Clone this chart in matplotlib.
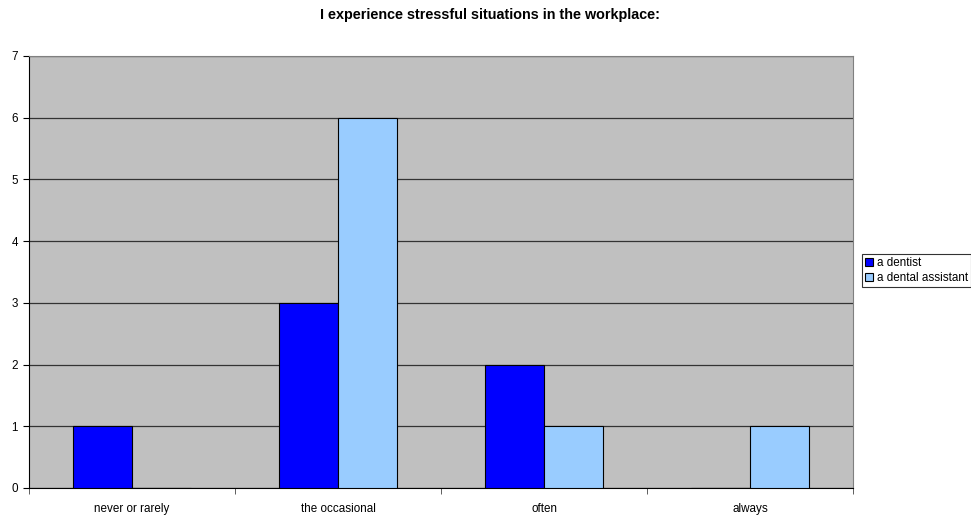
import numpy as np
import matplotlib.pyplot as plt

categories = ['never or rarely', 'the occasional', 'often', 'always']
dentist = [1, 3, 2, 0]
assistant = [0, 6, 1, 1]
series_names = ['a dentist', 'a dental assistant']

plt.rcParams['font.family'] = ['Liberation Sans', 'DejaVu Sans']

fig = plt.figure(figsize=(9.71, 5.15), dpi=100)
ax = fig.add_axes([29 / 971, 1 - 488 / 515, (853 - 29) / 971, (488 - 56) / 515])
ax.set_facecolor('#C0C0C0')

x = np.arange(len(categories))
w = 0.284
ax.bar(x - w / 2, dentist, w, color='#0000FF', edgecolor='black', linewidth=0.8,
       label=series_names[0], zorder=3)
ax.bar(x + w / 2, assistant, w, color='#99CCFF', edgecolor='black', linewidth=0.8,
       label=series_names[1], zorder=3)

ax.set_xlim(-0.5, len(categories) - 0.5)
ax.set_ylim(0, 7)
ax.set_yticks(range(0, 8))
ax.yaxis.grid(True, color='#333333', linewidth=0.9, zorder=1)
ax.set_axisbelow(True)

ax.set_xticks(x)
ax.set_xticklabels(categories, fontsize=8.4)
ax.set_xticks(np.arange(-0.5, len(categories)), minor=True)
ax.tick_params(axis='x', which='major', length=0, pad=11)
ax.tick_params(axis='x', which='minor', length=4, direction='out', color='#444444')
ax.tick_params(axis='y', labelsize=8.4, length=4, direction='out', pad=4)

for s in ['top', 'right']:
    ax.spines[s].set_color('#808080')
ax.spines['left'].set_color('black')
ax.spines['bottom'].set_color('black')

fig.text(490 / 971, 1 - 15 / 515, 'I experience stressful situations in the workplace:',
         ha='center', va='center', fontsize=10.4, fontweight='bold')

leg = fig.legend(loc='upper left', bbox_to_anchor=(862 / 971, 1 - 254 / 515),
                 fontsize=8.4, frameon=True, fancybox=False, edgecolor='black',
                 handlelength=0.7, handleheight=0.7, handletextpad=0.3,
                 borderpad=0.25, labelspacing=0.3, borderaxespad=0)
leg.get_frame().set_linewidth(0.8)

fig.savefig('out.png', dpi=100)
